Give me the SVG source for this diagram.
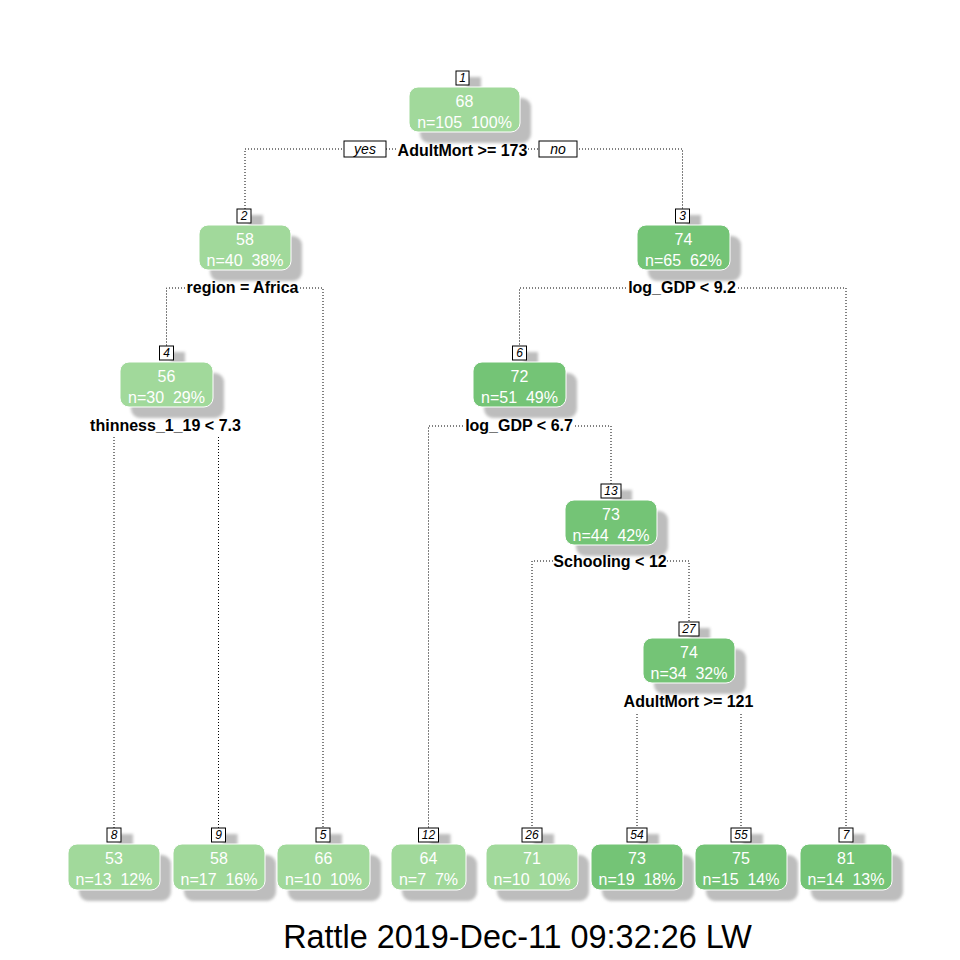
<svg xmlns="http://www.w3.org/2000/svg" width="960" height="960" viewBox="0 0 960 960">
<defs>
<filter id="blur" x="-20%" y="-20%" width="140%" height="140%"><feGaussianBlur stdDeviation="1.6"/></filter>
<style>
.sh{fill:#bdbdbd;filter:url(#blur)}
.lt{fill:#a1d99b;stroke:#ffffff;stroke-width:1}
.dk{fill:#74c476;stroke:#ffffff;stroke-width:1}
.lb{fill:#ffffff;stroke:#000000;stroke-width:1}
.lbt{font-family:"Liberation Sans",Arial,sans-serif;font-size:12px;font-style:italic;fill:#000;text-anchor:middle}
.v{font-family:"Liberation Sans",Arial,sans-serif;font-size:16px;fill:#ffffff;text-anchor:middle;white-space:pre}
.sp{font-family:"Liberation Sans",Arial,sans-serif;font-size:16px;font-weight:bold;fill:#000;text-anchor:middle}
.yn{font-family:"Liberation Sans",Arial,sans-serif;font-size:14px;font-style:italic;fill:#000;text-anchor:middle}
.c{fill:none;stroke:#000;stroke-width:1;stroke-dasharray:1 2}
.title{font-family:"Liberation Sans",Arial,sans-serif;font-size:32.4px;fill:#000;text-anchor:middle}
</style>
</defs>
<rect width="960" height="960" fill="#ffffff"/>

<g id="connectors">
<path class="c" d="M245,209 V149 H397"/>
<path class="c" d="M528,149 H682.5 V209"/>
<path class="c" d="M185,288 H166.5 V346"/>
<path class="c" d="M300,288 H323 V828"/>
<path class="c" d="M626,288 H519.5 V346"/>
<path class="c" d="M738,288 H846 V828"/>
<path class="c" d="M114,437 V828"/>
<path class="c" d="M218.5,437 V828"/>
<path class="c" d="M463,426 H428.5 V828"/>
<path class="c" d="M575,426 H611 V484"/>
<path class="c" d="M553,561 H532 V828"/>
<path class="c" d="M667,561 H689 V622"/>
<path class="c" d="M637,714 V828"/>
<path class="c" d="M741,714 V828"/>
<rect class="lb" x="344" y="141" width="42" height="16"/>
<text class="yn" x="365" y="154">yes</text>
<rect class="lb" x="539" y="141" width="38" height="16"/>
<text class="yn" x="558" y="154">no</text>
</g>

<g id="node-1">
<rect class="sh" x="467" y="77" width="14" height="15"/>
<rect class="sh" x="420" y="98" width="111" height="45" rx="9"/>
<rect class="lt" x="409" y="87" width="111" height="45" rx="9"/>
<rect class="lb" x="456" y="71" width="13" height="14"/>
<text class="lbt" x="462.5" y="82">1</text>
<text class="v" x="464.5" y="107">68</text>
<text class="v" x="464.5" y="128">n=105  100%</text>
<text class="sp" x="462.5" y="156">AdultMort &gt;= 173</text>
</g>

<g id="node-2">
<rect class="sh" x="249" y="215" width="14" height="15"/>
<rect class="sh" x="210" y="236" width="92" height="45" rx="9"/>
<rect class="lt" x="199" y="225" width="92" height="45" rx="9"/>
<rect class="lb" x="237" y="209" width="14" height="14"/>
<text class="lbt" x="244" y="220">2</text>
<text class="v" x="245" y="245">58</text>
<text class="v" x="245" y="266">n=40  38%</text>
<text class="sp" x="242.5" y="293">region = Africa</text>
</g>

<g id="node-3">
<rect class="sh" x="687" y="215" width="14" height="15"/>
<rect class="sh" x="648" y="236" width="93" height="45" rx="9"/>
<rect class="dk" x="637" y="225" width="93" height="45" rx="9"/>
<rect class="lb" x="675.5" y="209" width="14" height="14"/>
<text class="lbt" x="682.5" y="220">3</text>
<text class="v" x="683.5" y="245">74</text>
<text class="v" x="683.5" y="266">n=65  62%</text>
<text class="sp" x="682" y="293">log_GDP &lt; 9.2</text>
</g>

<g id="node-4">
<rect class="sh" x="171" y="352" width="14" height="15"/>
<rect class="sh" x="131" y="373" width="93" height="45" rx="9"/>
<rect class="lt" x="120" y="362" width="93" height="45" rx="9"/>
<rect class="lb" x="159.5" y="346" width="14" height="14"/>
<text class="lbt" x="166.5" y="357">4</text>
<text class="v" x="166.5" y="382">56</text>
<text class="v" x="166.5" y="403">n=30  29%</text>
<text class="sp" x="165.5" y="431">thinness_1_19 &lt; 7.3</text>
</g>

<g id="node-6">
<rect class="sh" x="524" y="352" width="14" height="15"/>
<rect class="sh" x="484" y="373" width="93" height="45" rx="9"/>
<rect class="dk" x="473" y="362" width="93" height="45" rx="9"/>
<rect class="lb" x="512.5" y="346" width="14" height="14"/>
<text class="lbt" x="519.5" y="357">6</text>
<text class="v" x="519.5" y="382">72</text>
<text class="v" x="519.5" y="403">n=51  49%</text>
<text class="sp" x="519" y="431">log_GDP &lt; 6.7</text>
</g>

<g id="node-13">
<rect class="sh" x="612" y="490" width="20" height="15"/>
<rect class="sh" x="576" y="511" width="92" height="45" rx="9"/>
<rect class="dk" x="565" y="500" width="92" height="45" rx="9"/>
<rect class="lb" x="601" y="484" width="20" height="14"/>
<text class="lbt" x="611" y="495">13</text>
<text class="v" x="611" y="520">73</text>
<text class="v" x="611" y="541">n=44  42%</text>
<text class="sp" x="610" y="567">Schooling &lt; 12</text>
</g>

<g id="node-27">
<rect class="sh" x="690" y="628" width="20" height="15"/>
<rect class="sh" x="654" y="649" width="92" height="45" rx="9"/>
<rect class="dk" x="643" y="638" width="92" height="45" rx="9"/>
<rect class="lb" x="679" y="622" width="20" height="14"/>
<text class="lbt" x="689" y="633">27</text>
<text class="v" x="689" y="658">74</text>
<text class="v" x="689" y="679">n=34  32%</text>
<text class="sp" x="688.5" y="707">AdultMort &gt;= 121</text>
</g>

<g id="node-8">
<rect class="sh" x="119" y="834" width="14" height="15"/>
<rect class="sh" x="79" y="855" width="92" height="46" rx="9"/>
<rect class="lt" x="68" y="844" width="92" height="46" rx="9"/>
<rect class="lb" x="107" y="828" width="14" height="14"/>
<text class="lbt" x="114" y="839">8</text>
<text class="v" x="114" y="864">53</text>
<text class="v" x="114" y="885">n=13  12%</text>
</g>

<g id="node-9">
<rect class="sh" x="223.5" y="834" width="14" height="15"/>
<rect class="sh" x="184" y="855" width="92" height="46" rx="9"/>
<rect class="lt" x="173" y="844" width="92" height="46" rx="9"/>
<rect class="lb" x="211.5" y="828" width="14" height="14"/>
<text class="lbt" x="218.5" y="839">9</text>
<text class="v" x="219" y="864">58</text>
<text class="v" x="219" y="885">n=17  16%</text>
</g>

<g id="node-5">
<rect class="sh" x="328" y="834" width="14" height="15"/>
<rect class="sh" x="288" y="855" width="93" height="46" rx="9"/>
<rect class="lt" x="277" y="844" width="93" height="46" rx="9"/>
<rect class="lb" x="316" y="828" width="14" height="14"/>
<text class="lbt" x="323" y="839">5</text>
<text class="v" x="323.5" y="864">66</text>
<text class="v" x="323.5" y="885">n=10  10%</text>
</g>

<g id="node-12">
<rect class="sh" x="430.5" y="834" width="20" height="15"/>
<rect class="sh" x="402" y="855" width="75" height="46" rx="9"/>
<rect class="lt" x="391" y="844" width="75" height="46" rx="9"/>
<rect class="lb" x="418.5" y="828" width="20" height="14"/>
<text class="lbt" x="428.5" y="839">12</text>
<text class="v" x="428.5" y="864">64</text>
<text class="v" x="428.5" y="885">n=7  7%</text>
</g>

<g id="node-26">
<rect class="sh" x="534" y="834" width="20" height="15"/>
<rect class="sh" x="497" y="855" width="92" height="46" rx="9"/>
<rect class="lt" x="486" y="844" width="92" height="46" rx="9"/>
<rect class="lb" x="522" y="828" width="20" height="14"/>
<text class="lbt" x="532" y="839">26</text>
<text class="v" x="532" y="864">71</text>
<text class="v" x="532" y="885">n=10  10%</text>
</g>

<g id="node-54">
<rect class="sh" x="639" y="834" width="20" height="15"/>
<rect class="sh" x="602" y="855" width="92" height="46" rx="9"/>
<rect class="dk" x="591" y="844" width="92" height="46" rx="9"/>
<rect class="lb" x="627" y="828" width="20" height="14"/>
<text class="lbt" x="637" y="839">54</text>
<text class="v" x="637" y="864">73</text>
<text class="v" x="637" y="885">n=19  18%</text>
</g>

<g id="node-55">
<rect class="sh" x="743" y="834" width="20" height="15"/>
<rect class="sh" x="706" y="855" width="92" height="46" rx="9"/>
<rect class="dk" x="695" y="844" width="92" height="46" rx="9"/>
<rect class="lb" x="731" y="828" width="20" height="14"/>
<text class="lbt" x="741" y="839">55</text>
<text class="v" x="741" y="864">75</text>
<text class="v" x="741" y="885">n=15  14%</text>
</g>

<g id="node-7">
<rect class="sh" x="851" y="834" width="14" height="15"/>
<rect class="sh" x="811" y="855" width="92" height="46" rx="9"/>
<rect class="dk" x="800" y="844" width="92" height="46" rx="9"/>
<rect class="lb" x="839" y="828" width="14" height="14"/>
<text class="lbt" x="846" y="839">7</text>
<text class="v" x="846" y="864">81</text>
<text class="v" x="846" y="885">n=14  13%</text>
</g>

<text class="title" x="517.5" y="948">Rattle 2019-Dec-11 09:32:26 LW</text>
</svg>
